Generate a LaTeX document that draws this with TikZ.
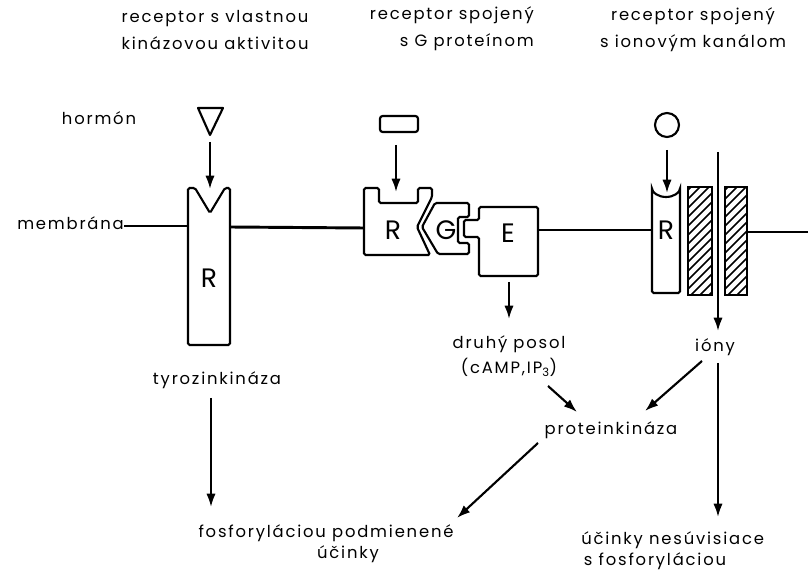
\documentclass[tikz,border=0pt]{standalone}
\usepackage{fontspec}
\setmainfont[LetterSpace=11]{Poppins}
\usetikzlibrary{arrows.meta}
\begin{document}
\begin{tikzpicture}[x=0.75pt,y=-0.75pt,
  txt/.style={inner sep=0pt,font=\fontsize{12.3}{19}\selectfont},
  tight/.style={inner sep=0pt,font=\fontsize{12.3}{16}\selectfont},
  big/.style={inner sep=0pt,font=\fontsize{20}{20}\selectfont},
  blk/.style={draw,line width=1.6pt,rounded corners=1.2pt,fill=white},
  memb/.style={line width=2.2pt},
  arr/.style={line width=1.6pt,-{Latex[length=10pt,width=7pt]}},
  hatch/.style={line width=1.1pt}]
\useasboundingbox (0,0) rectangle (808,573);
% header labels
\node[txt,align=center,font=\fontsize{12.3}{20.5}\selectfont] (hdrA) at (215,30) {receptor s vlastnou\\kinázovou aktivitou};
\node[txt,align=right,anchor=east,font=\fontsize{12.3}{20.5}\selectfont] (hdrB) at (534,29) {receptor spojený\\s G proteínom};
\node[txt,align=center,font=\fontsize{12.3}{20.5}\selectfont] (hdrC) at (693,30) {receptor spojený\\s ionovým kanálom};
\node[txt] (hormon) at (99,118) {hormón};
\node[txt,anchor=east] (membr) at (124,223) {membrána};
% membrane line segments
\coordinate (mA) at (188,226);
\coordinate (mB1) at (230,227);
\coordinate (mB2) at (364,228);
\coordinate (mC1) at (538,230);
\coordinate (mC2) at (652,230);
\coordinate (mD1) at (747,232);
\coordinate (mD2) at (808,232);
\draw[memb] (membr.east |- mA) -- (mA);
\draw[memb] (mB1) -- (mB2);
\draw[memb] (mC1) -- (mC2);
\draw[memb] (mD1) -- (mD2);
% receptor with kinase activity
\draw[blk] (188,345) -- (188,188) -- (195,188) -- (210,213) -- (225,188) -- (230,188) -- (230,345) -- cycle;
\node[big] (R1) at (209,278) {R};
\draw[line width=1.6pt,line join=round] (198,108) -- (223,108) -- (210,135) -- cycle;
\coordinate (hA1) at (210,142);
\coordinate (hA2) at (210,189);
\draw[arr] (hA1) -- (hA2);
\node[txt] (tyro) at (217,380) {tyrozinkináza};
\coordinate (tA1) at (211,398);
\coordinate (tA2) at (211,507);
\draw[arr] (tA1) -- (tA2);
% G-protein coupled receptor
\draw[blk] (364,255) -- (364,188) -- (379,188) -- (379,203) -- (418,203) -- (418,188) -- (432,188) -- (432,197) -- (417,227) -- (430,255) -- cycle;
\node[big] (R2) at (393,230) {R};
\draw[blk] (435,203) -- (469,203) -- (469,217) -- (458,217) -- (458,243) -- (469,243) -- (469,254) -- (438,254) -- (422,227) -- cycle;
\node[big] (G) at (446,230) {G};
\draw[blk] (479,207) -- (538,207) -- (538,276) -- (479,276) -- (479,237) -- (464,237) -- (464,220) -- (479,220) -- cycle;
\node[big] (E) at (508,233) {E};
\draw[line width=1.6pt,rounded corners=2pt] (380,116) rectangle (418,132);
\coordinate (gA1) at (396,145);
\coordinate (gA2) at (396,192);
\draw[arr] (gA1) -- (gA2);
\coordinate (eA1) at (509,282);
\coordinate (eA2) at (509,319);
\draw[arr] (eA1) -- (eA2);
\node[txt,align=center] (druhy) at (509,356) {druhý posol\\(cAMP,IP\textsubscript{3})};
\node[txt] (protein) at (611,430) {proteinkináza};
\coordinate (dA1) at (548,386);
\coordinate (dA2) at (577,412);
\draw[arr] (dA1) -- (dA2);
\coordinate (pA1) at (538,443);
\coordinate (pA2) at (457,518);
\draw[arr] (pA1) -- (pA2);
\node[tight,align=center] (fosfo) at (326,544) {fosforyláciou podmienené\\\hspace*{33pt}účinky};
% ion channel receptor
\draw[line width=1.6pt] (667,125) circle[radius=9pt];
\coordinate (cA1) at (667,150);
\coordinate (cA2) at (667,193);
\draw[blk] (652,187) arc[start angle=180,end angle=360,x radius=14,y radius=-10] -- (680,293) -- (652,293) -- cycle;
\node[big] (R3) at (666,230) {R};
\draw[arr] (cA1) -- (cA2);
\begin{scope}
\clip (688,187) rectangle (712,295);
\foreach \k in {0,...,14} {\draw[hatch] (688,190+\k*9) -- ++(30,-30);}
\end{scope}
\draw[line width=1.6pt] (688,187) rectangle (712,295);
\begin{scope}
\clip (725,187) rectangle (747,295);
\foreach \k in {0,...,14} {\draw[hatch] (725,190+\k*9) -- ++(30,-30);}
\end{scope}
\draw[line width=1.6pt] (725,187) rectangle (747,295);
\coordinate (iA1) at (718,152);
\coordinate (iA2) at (718,331);
\draw[arr] (iA1) -- (iA2);
\node[txt] (iony) at (715,347) {ióny};
\coordinate (iB1) at (702,361);
\coordinate (iB2) at (645,411);
\draw[arr] (iB1) -- (iB2);
\coordinate (iC1) at (718,363);
\coordinate (iC2) at (718,517);
\draw[arr] (iC1) -- (iC2);
\node[tight,align=left,anchor=west] (ucinky) at (581,551) {účinky nesúvisiace\\\hspace*{2pt}s fosforyláciou};
\end{tikzpicture}
\end{document}
